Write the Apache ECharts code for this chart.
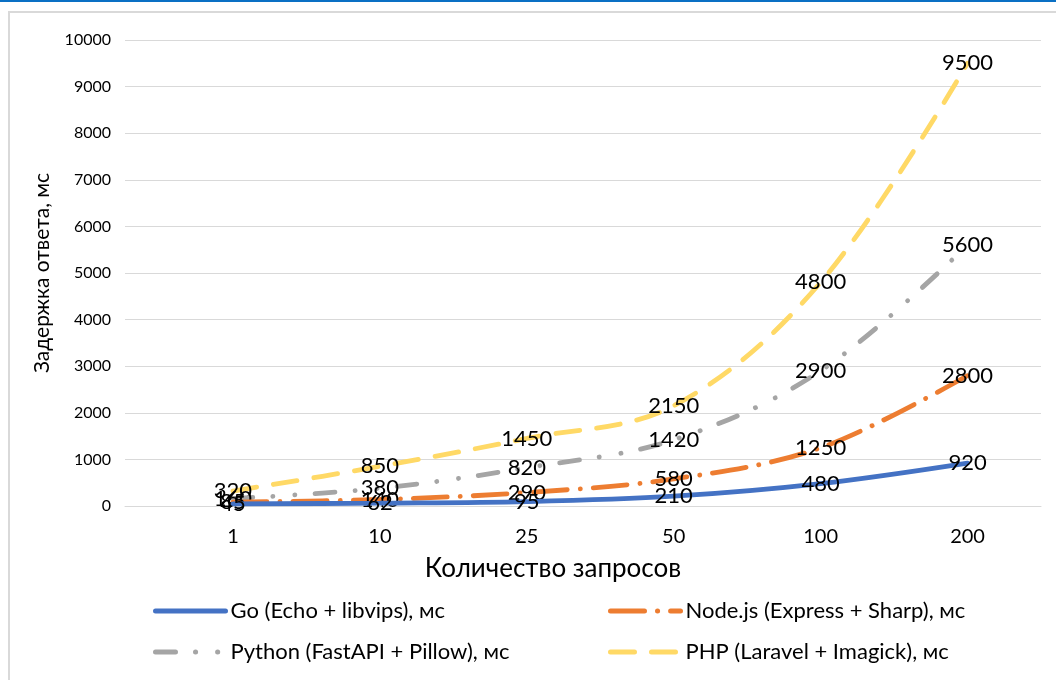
<!DOCTYPE html>
<html><head><meta charset="utf-8">
<script src="https://cdn.jsdelivr.net/npm/echarts@6/dist/echarts.min.js"></script>
<style>html,body{margin:0;padding:0;background:#fff}#c{width:1056px;height:680px}</style>
</head><body><div id="c"></div>
<script>
const categories = ['1', '10', '25', '50', '100', '200'];
const seriesNames = ['Go (Echo + libvips), мс', 'Node.js (Express + Sharp), мс', 'Python (FastAPI + Pillow), мс', 'PHP (Laravel + Imagick), мс'];
const goValues = [45, 62, 95, 210, 480, 920];
const nodeValues = [85, 140, 290, 580, 1250, 2800];
const pythonValues = [160, 380, 820, 1420, 2900, 5600];
const phpValues = [320, 850, 1450, 2150, 4800, 9500];
const yTicks = [0, 1000, 2000, 3000, 4000, 5000, 6000, 7000, 8000, 9000, 10000];

const FONT = 'Lato';
const colors = ['#4472C4', '#ED7D31', '#A5A5A5', '#FFD966'];
const dashes = [
  'solid',
  [34, 13, 0.1, 13],
  [20, 20, 0.1, 22, 0.1, 20],
  [24, 17]
];
const values = [goValues, nodeValues, pythonValues, phpValues];
const catIdx = categories.map((c, i) => i);

const series = values.map((v, i) => ({
  name: seriesNames[i],
  type: 'line',
  smooth: 0.35,
  data: v.map((y, k) => [catIdx[k], y]),
  symbol: 'circle',
  symbolSize: 0.1,
  z: 10 - i,
  itemStyle: { color: colors[i] },
  lineStyle: { color: colors[i], width: 4.8, type: dashes[i], cap: 'round' },
  label: { show: true, position: 'inside', color: '#000', fontFamily: FONT, fontSize: 22,
    formatter: p => String(p.value[1]) },
  emphasis: { disabled: true }
}));

const legendPos = [[148, 595], [603, 595], [148, 636], [603, 636]];
const legends = seriesNames.map((n, i) => ({
  data: [n],
  left: legendPos[i][0],
  top: legendPos[i][1],
  itemWidth: 70,
  itemHeight: 22,
  itemGap: 0,
  textStyle: { fontFamily: FONT, fontSize: 22, color: '#000' },
  itemStyle: { opacity: 0 },
  lineStyle: { width: 5, type: dashes[i], cap: 'round' },
  selectedMode: false
}));

const chart = echarts.init(document.getElementById('c'));
chart.setOption({
  animation: false,
  backgroundColor: '#fff',
  grid: { left: 125, right: 15, top: 40, bottom: 174 },
  legend: legends,
  graphic: [
    { type: 'rect', shape: { x: 0, y: 0, width: 1056, height: 2 }, style: { fill: '#0a70c4' } },
    { type: 'rect', shape: { x: 9, y: 12, width: 1100, height: 700 }, style: { fill: 'none', stroke: '#d9d9d9', lineWidth: 2 } }
  ],
  xAxis: {
    type: 'value',
    min: -0.735, max: 5.5,
    name: 'Количество запросов',
    nameLocation: 'middle',
    nameGap: 50,
    nameTextStyle: { fontFamily: FONT, fontSize: 26, color: '#000', padding: [0, 0, 0, -60] },
    axisLine: { show: true, onZero: false, lineStyle: { color: '#d9d9d9' } },
    axisTick: { show: false },
    splitLine: { show: false },
    axisLabel: { fontFamily: FONT, fontSize: 20, color: '#000', margin: 21,
      customValues: catIdx, formatter: v => categories[Math.round(v)] }
  },
  yAxis: {
    type: 'value',
    min: 0, max: 10000, interval: 1000,
    name: 'Задержка ответа, мс',
    nameLocation: 'middle',
    nameGap: 72,
    nameTextStyle: { fontFamily: FONT, fontSize: 21, color: '#000' },
    axisLine: { show: false },
    axisTick: { show: false },
    splitLine: { lineStyle: { color: '#d9d9d9', width: 1 } },
    axisLabel: { fontFamily: FONT, fontSize: 16, color: '#000', margin: 14,
      formatter: v => yTicks.includes(v) ? String(v) : '' }
  },
  series: series
});
</script></body></html>
